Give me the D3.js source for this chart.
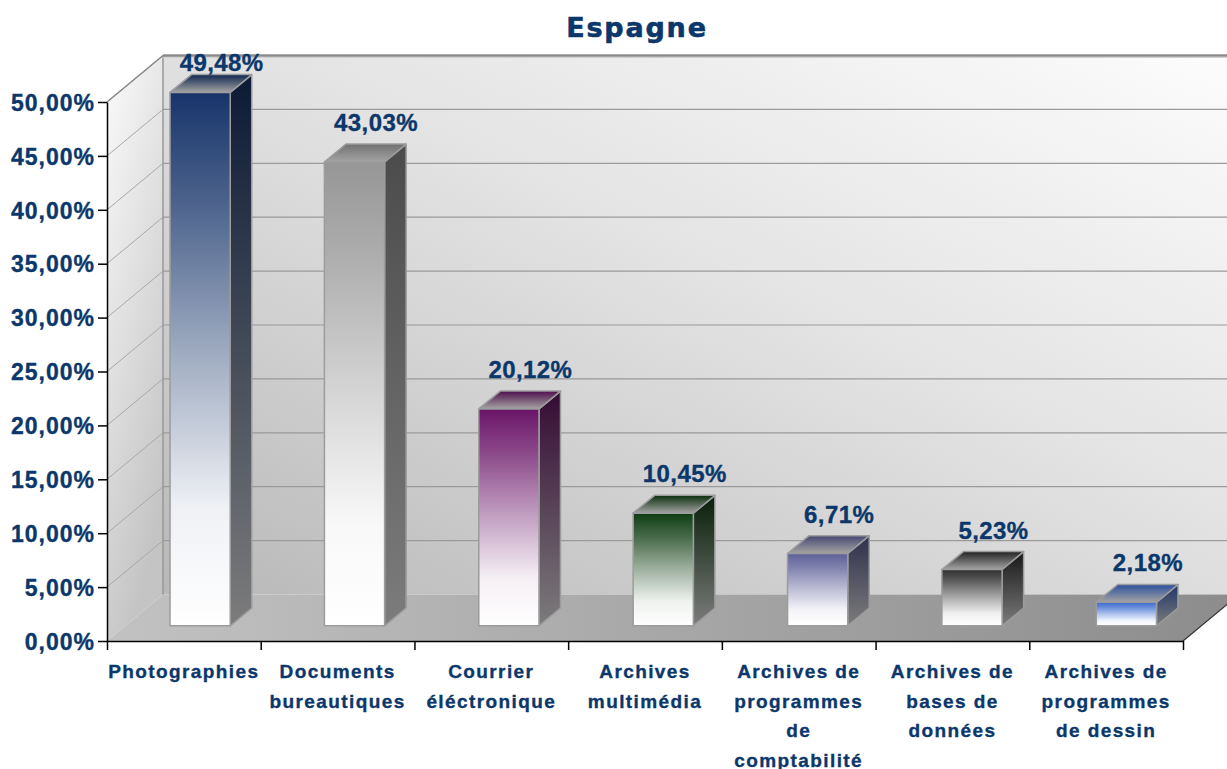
<!DOCTYPE html>
<html>
<head>
<meta charset="utf-8">
<script src="https://cdn.jsdelivr.net/npm/d3@7"></script>
<style>
  body { margin: 0; background: #fff; }
  svg { display: block; }
  text { font-family: "Liberation Sans", Arial, sans-serif; font-weight: bold; fill: #0b376b;
         stroke: #0b376b; stroke-width: 0.35px; }
</style>
</head>
<body>
<div id="chart"></div>
<script>
// data
var categories = [
  "Photographies",
  "Documents\nbureautiques",
  "Courrier\néléctronique",
  "Archives\nmultimédia",
  "Archives de\nprogrammes\nde\ncomptabilité",
  "Archives de\nbases de\ndonnées",
  "Archives de\nprogrammes\nde dessin"
];
var values = [49.48, 43.03, 20.12, 10.45, 6.71, 5.23, 2.18];
var yTicks = [0, 5, 10, 15, 20, 25, 30, 35, 40, 45, 50];
var title = "Espagne";

var barColors = ["#17346a", "#969696", "#6a1568", "#0f3d12", "#5e6098", "#2e2e2e", "#3a6ad0"];

var width = 1227, height = 769;
var plotLeft = 107, plotRight = 1183, plotBottom = 641, plotTop = 102;
var depthX = 56, depthY = -46.5;   // offset of the back wall
var d0 = 0.326, d1 = 0.71;          // depth of bar front / back

var svg = d3.select('#chart').append('svg')
  .attr('width', width)
  .attr('height', height);

var y = d3.scaleLinear().domain([0, 50]).range([plotBottom, plotTop]);
var x = d3.scaleBand().domain(categories).range([plotLeft, plotRight])
  .paddingInner(0.61).paddingOuter(0.29);
var xs = d3.scaleLinear().domain([0, categories.length]).range([plotLeft, plotRight]);

// project a point (front x, value, depth) to the screen
function P(px, v, d) {
  return [px + d * depthX, y(v) + d * depthY];
}
function pts(a) { return a.map(function(p) { return p.join(','); }).join(' '); }

var defs = svg.append('defs');
function grad(id, x1, y1, x2, y2, stops) {
  var g = defs.append('linearGradient').attr('id', id)
    .attr('x1', x1).attr('y1', y1).attr('x2', x2).attr('y2', y2);
  stops.forEach(function(s) {
    g.append('stop').attr('offset', s[0]).attr('stop-color', s[1]);
  });
}
grad('wallBack', 0, 1, 1, 0, [[0, '#b8b8b8'], [0.55, '#e4e4e4'], [1, '#fefefe']]);
grad('wallSide', 0, 0, 0.4, 1, [[0, '#fbfbfb'], [1, '#c4c4c4']]);
grad('floor', 0, 0, 1, 0, [[0, '#c2c2c2'], [1, '#8c8c8c']]);

barColors.forEach(function(c, i) {
  var w = d3.interpolateRgb(c, '#ffffff');
  grad('front' + i, 0, 0, 0, 1, [[0, c], [0.2, w(0.22)], [0.5, w(0.6)], [0.78, w(0.93)], [1, '#ffffff']]);
  grad('side' + i, 0, 0, 0, 1, [[0, d3.interpolateRgb(c, '#000')(0.5)], [1, '#7c7c7c']]);
  grad('top' + i, 0, 1, 0, 0, [[0, '#a4a4a4'], [1, d3.interpolateRgb(c, '#000')(0.25)]]);
});

// walls and floor
var backWall = [P(plotLeft, 50, 1), P(plotRight + 60, 50, 1), P(plotRight + 60, 0, 1), P(plotLeft, 0, 1)];
svg.append('polygon').attr('points', pts(backWall)).attr('fill', 'url(#wallBack)');
var sideWall = [P(plotLeft, 50, 0), P(plotLeft, 50, 1), P(plotLeft, 0, 1), P(plotLeft, 0, 0)];
svg.append('polygon').attr('points', pts(sideWall)).attr('fill', 'url(#wallSide)');
var floor = [P(plotLeft, 0, 0), P(plotRight, 0, 0), P(plotRight, 0, 1), P(plotLeft, 0, 1)];
svg.append('polygon').attr('points', pts(floor)).attr('fill', 'url(#floor)');

// grid lines on the back and side walls
var grid = svg.append('g').attr('stroke', '#9a9a9a').attr('stroke-width', 1.2).attr('fill', 'none');
yTicks.slice(1).forEach(function(t) {
  var a = P(plotLeft, t, 1), b = P(plotRight + 60, t, 1), c = P(plotLeft, t, 0);
  grid.append('line').attr('x1', a[0]).attr('y1', a[1]).attr('x2', b[0]).attr('y2', b[1]);
  grid.append('line').attr('x1', c[0]).attr('y1', c[1]).attr('x2', a[0]).attr('y2', a[1])
    .attr('stroke', '#a8a8a8').attr('stroke-width', 1);
});
// wall edges
var e1 = P(plotLeft, 50, 1), e2 = P(plotLeft, 0, 1), e3 = P(plotLeft, 50, 0);
svg.append('line').attr('x1', e1[0]).attr('y1', e1[1]).attr('x2', e2[0]).attr('y2', e2[1])
  .attr('stroke', '#999').attr('stroke-width', 1.5);
svg.append('line').attr('x1', e3[0]).attr('y1', e3[1]).attr('x2', e1[0]).attr('y2', e1[1])
  .attr('stroke', '#888').attr('stroke-width', 1.5);
svg.append('line').attr('x1', e1[0]).attr('y1', e1[1]).attr('x2', width).attr('y2', e1[1])
  .attr('stroke', '#8c8c8c').attr('stroke-width', 2.5);
svg.append('line').attr('x1', e1[0]).attr('y1', e1[1] + 2).attr('x2', width).attr('y2', e1[1] + 2)
  .attr('stroke', '#d0d0d0').attr('stroke-width', 1);
var f1 = P(plotRight, 0, 0), f2 = P(plotRight, 0, 1);
svg.append('line').attr('x1', f1[0]).attr('y1', f1[1]).attr('x2', f2[0]).attr('y2', f2[1])
  .attr('stroke', '#333').attr('stroke-width', 1.2);

// bars
var bars = svg.selectAll('.bar')
  .data(values)
  .enter()
  .append('g')
  .attr('class', 'bar')
  .attr('stroke', '#9c9c9c')
  .attr('stroke-width', 1.5)
  .attr('stroke-linejoin', 'round');

bars.append('polygon')
  .attr('fill', function(d, i) { return 'url(#side' + i + ')'; })
  .attr('points', function(d, i) {
    var x1 = x(categories[i]) + x.bandwidth();
    return pts([P(x1, d, d0), P(x1, d, d1), P(x1, 0, d1), P(x1, 0, d0)]);
  });
bars.append('polygon')
  .attr('fill', function(d, i) { return 'url(#top' + i + ')'; })
  .attr('points', function(d, i) {
    var x0 = x(categories[i]), x1 = x0 + x.bandwidth();
    return pts([P(x0, d, d0), P(x1, d, d0), P(x1, d, d1), P(x0, d, d1)]);
  });
bars.append('polygon')
  .attr('fill', function(d, i) { return 'url(#front' + i + ')'; })
  .attr('points', function(d, i) {
    var x0 = x(categories[i]), x1 = x0 + x.bandwidth();
    return pts([P(x0, d, d0), P(x1, d, d0), P(x1, 0, d0), P(x0, 0, d0)]);
  });

var fmt = function(v) { return d3.format('.2f')(v).replace('.', ',') + '%'; };

// value labels
svg.selectAll('.val')
  .data(values)
  .enter()
  .append('text')
  .attr('class', 'val')
  .attr('text-anchor', 'middle')
  .attr('font-size', 24)
  .attr('letter-spacing', 0.4)
  .attr('x', function(d, i) { return P(x(categories[i]) + x.bandwidth() / 2, d, d1)[0]; })
  .attr('y', function(d, i) { return Math.max(71, P(0, d, d1)[1] - 13); })
  .text(fmt);

// y axis
var yAxis = svg.append('g')
  .attr('transform', 'translate(' + plotLeft + ',0)')
  .call(d3.axisLeft(y).tickValues(yTicks).tickFormat(fmt).tickSize(9).tickSizeOuter(0).tickPadding(3));
yAxis.select('.domain').attr('stroke', '#000').attr('stroke-width', 1.5);
yAxis.selectAll('.tick line').attr('stroke', '#000').attr('stroke-width', 1.5);
yAxis.selectAll('.tick text')
  .attr('font-size', 23)
  .attr('letter-spacing', 1)
  .attr('font-family', '"Liberation Sans", Arial, sans-serif')
  .attr('font-weight', 'bold')
  .attr('fill', '#0b376b')
  .attr('dy', '0.36em');

// x axis
var xAxis = svg.append('g')
  .attr('transform', 'translate(0,' + plotBottom + ')')
  .call(d3.axisBottom(xs).tickValues(d3.range(categories.length + 1)).tickFormat('').tickSize(9).tickSizeOuter(0));
xAxis.select('.domain').attr('stroke', '#000').attr('stroke-width', 1.5);
xAxis.selectAll('.tick line').attr('stroke', '#000').attr('stroke-width', 1.5);

svg.selectAll('.cat')
  .data(categories)
  .enter()
  .append('text')
  .attr('class', 'cat')
  .attr('text-anchor', 'middle')
  .attr('font-size', 19)
  .attr('letter-spacing', 1.4)
  .each(function(d, i) {
    var cx = xs(i + 0.5);
    d3.select(this).selectAll('tspan')
      .data(d.split('\n'))
      .enter()
      .append('tspan')
      .attr('x', cx)
      .attr('y', function(s, j) { return 678 + j * 29.5; })
      .text(function(s) { return s; });
  });

// title
svg.append('text')
  .attr('x', 637)
  .attr('y', 37)
  .attr('text-anchor', 'middle')
  .attr('font-size', 27)
  .attr('letter-spacing', 1.8)
  .style('font-family', '"DejaVu Sans", sans-serif')
  .style('stroke-width', '0.6px')
  .text(title);
</script>
</body>
</html>
